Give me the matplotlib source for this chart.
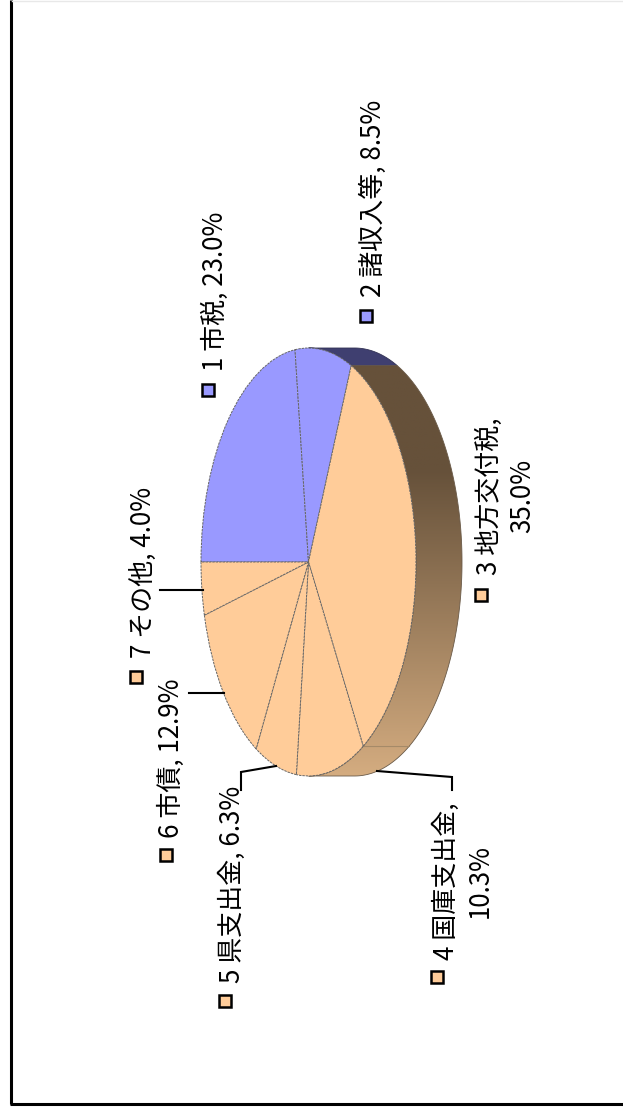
import numpy as np
import matplotlib
matplotlib.use('Agg')
import matplotlib.pyplot as plt
from matplotlib.colors import LinearSegmentedColormap
from matplotlib.patches import Polygon, Rectangle
from matplotlib.transforms import Affine2D

plt.rcParams['font.family'] = ['Noto Sans CJK JP', 'DejaVu Sans']

names = ['市税', '諸収入等', '地方交付税', '国庫支出金', '県支出金', '市債', 'その他']
values = [23.0, 8.5, 35.0, 10.3, 6.3, 12.9, 4.0]
blue = '#9999ff'
orange = '#ffcc99'
colors = [blue, blue, orange, orange, orange, orange, orange]
wrapped = [False, False, True, True, False, False, False]

# pixel layout of the reference
W, H = 623, 1109
cx, cy, rx, ry = 308.5, 562, 107.5, 214
depth = 46
start = 180

# legend marker x, marker y, text x, text y (bottom of the text)
marker_x = [208, 366, 481, 437, 225, 166, 136]
marker_y = [390, 316, 595, 977, 1001, 855, 677]
text_x = [215, 373, 506, 463, 232, 171, 143]
text_y = [371, 297, 575, 960, 983, 838, 658]

# leader lines
leaders = [
    ([452, 452, 377], [790, 777, 771]),
    ([241, 241, 276], [790, 772, 766]),
    ([189, 224], [693, 693]),
    ([160, 203], [590, 590]),
]

fig = plt.figure(figsize=(W / 100, H / 100), dpi=100)
ax = fig.add_axes([0, 0, 1, 1])


def side_points(t0, t1):
    t = np.radians(np.linspace(t0, t1, 200))
    x = cx + rx * np.cos(t)
    y = cy + ry * np.sin(t)
    top = np.column_stack([x, y])
    low = np.column_stack([x + depth, y])[::-1]
    return np.vstack([top, low])


# top of the pie
wedges, _ = ax.pie(values, colors=colors, startangle=start, counterclock=True,
                   wedgeprops=dict(edgecolor='#666666', linewidth=0.7,
                                   linestyle=(0, (2.5, 1)), zorder=3))
for w in wedges:
    w.set_transform(Affine2D().scale(rx, ry).translate(cx, cy) + ax.transData)

# side wall, from the same cumulative values
edges = start + np.cumsum([0] + values) * 3.6
navy = Polygon(side_points(270, edges[2]), closed=True, facecolor='#3f3f70',
               edgecolor='#333355', linewidth=0.6, zorder=2)
ax.add_patch(navy)

wall = Polygon(side_points(edges[2], 450), closed=True, facecolor='none',
               edgecolor='#6a5a48', linewidth=0.6, zorder=2.5)
ax.add_patch(wall)
cmap = LinearSegmentedColormap.from_list('wall', [(0, '#66513a'), (0.285, '#66513a'), (1, '#d4ac80')])
grad = np.linspace(0, 1, 256).reshape(-1, 1)
im = ax.imshow(grad, cmap=cmap, extent=(cx, cx + rx + depth + 2, cy + ry, cy - ry),
               aspect='auto', zorder=1.5)
im.set_clip_path(wall)

# split between slices 3 and 4 on the wall
tsplit = np.radians(edges[3])
xs = cx + rx * np.cos(tsplit)
ys = cy + ry * np.sin(tsplit)
ax.plot([xs, xs + depth], [ys, ys], color='#a58a68', lw=0.8, zorder=2.6)

for lx, ly in leaders:
    ax.plot(lx, ly, color='black', lw=1.5, zorder=4, solid_joinstyle='miter')

for i, name in enumerate(names):
    ax.add_patch(Rectangle((marker_x[i] - 6, marker_y[i] - 6), 12, 12,
                           facecolor=colors[i], edgecolor='black', lw=1.8, zorder=4))
    sep = '\n' if wrapped[i] else ' '
    label = f'{i + 1} {name},{sep}{values[i]:.1f}%'
    ax.text(text_x[i], text_y[i], label, rotation=90, fontsize=18.7,
            ha='center', va='bottom', multialignment='center', linespacing=1.3, color='black')

# frame
ax.plot([10.5, 10.5], [0, 1104], color='black', lw=2.2, zorder=5, solid_capstyle='butt')
ax.plot([10, W], [1104, 1104], color='black', lw=2.2, zorder=5, solid_capstyle='butt')
ax.plot([12, W], [0.5, 0.5], color='#e8e8e8', lw=1, zorder=5)

ax.set_xlim(0, W)
ax.set_ylim(H, 0)
ax.set_aspect('auto')
ax.axis('off')

fig.savefig('out.png', dpi=100)
